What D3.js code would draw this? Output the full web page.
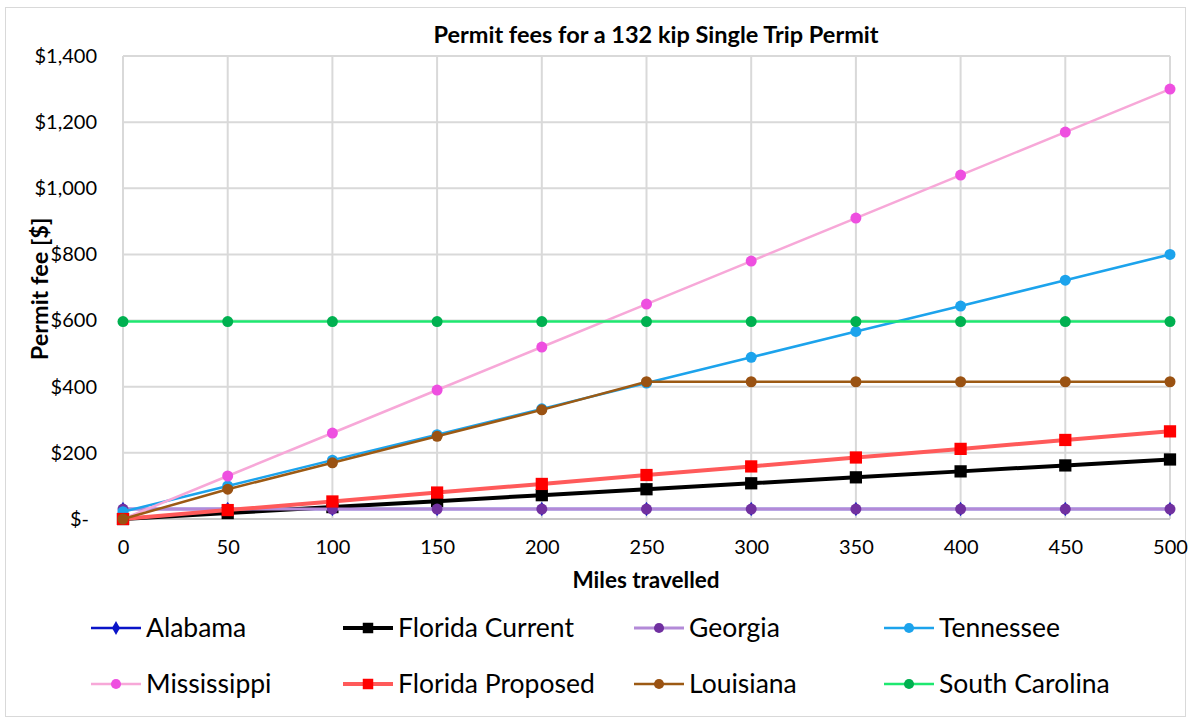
<!DOCTYPE html>
<html>
<head>
<meta charset="utf-8">
<script src="https://cdn.jsdelivr.net/npm/d3@7"></script>
<style>
  body { margin: 0; background: #fff; }
  text { font-family: Lato, "Open Sans", sans-serif; fill: #000; }
</style>
</head>
<body>
<div id="chart"></div>
<script>
// data
var miles = [0, 50, 100, 150, 200, 250, 300, 350, 400, 450, 500];
var alabama = [30, 30, 30, 30, 30, 30, 30, 30, 30, 30, 30];
var floridaCurrent = [0, 18, 36, 54, 72, 90, 108, 126, 144, 162, 180];
var georgia = [30, 30, 30, 30, 30, 30, 30, 30, 30, 30, 30];
var tennessee = [22, 100, 178, 255, 333, 411, 489, 567, 644, 722, 800];
var mississippi = [0, 130, 260, 390, 520, 650, 780, 910, 1040, 1170, 1300];
var floridaProposed = [0, 27, 53, 80, 106, 133, 159, 186, 212, 239, 265];
var louisiana = [0, 90, 170, 250, 330, 415, 415, 415, 415, 415, 415];
var southCarolina = [597, 597, 597, 597, 597, 597, 597, 597, 597, 597, 597];
var yTicks = [0, 200, 400, 600, 800, 1000, 1200, 1400];

var series = [
  {name: "Alabama", values: alabama, line: "#0a14c8", mark: "#0a14c8", shape: "diamond", lw: 2.5},
  {name: "Florida Current", values: floridaCurrent, line: "#000000", mark: "#000000", shape: "square", lw: 4},
  {name: "Georgia", values: georgia, line: "#b38ad8", mark: "#7030a0", shape: "circle", lw: 3},
  {name: "Tennessee", values: tennessee, line: "#1ca3ec", mark: "#1ca3ec", shape: "circle", lw: 2.5},
  {name: "Mississippi", values: mississippi, line: "#f7a8d8", mark: "#ee4fe0", shape: "circle", lw: 2.5},
  {name: "Florida Proposed", values: floridaProposed, line: "#ff5a5a", mark: "#ff0000", shape: "square", lw: 4},
  {name: "Louisiana", values: louisiana, line: "#9c5a14", mark: "#9a5212", shape: "circle", lw: 2.5},
  {name: "South Carolina", values: southCarolina, line: "#1ee870", mark: "#00b050", shape: "circle", lw: 2.5}
];

var W = 1191, H = 723;
var margin = {top: 56, right: 21, bottom: 204, left: 123},
    width = W - margin.left - margin.right,
    height = H - margin.top - margin.bottom;

var root = d3.select("#chart").append("svg")
    .attr("width", W).attr("height", H);

// outer chart border
root.append("rect")
    .attr("x", 5.5).attr("y", 7.5)
    .attr("width", 1180).attr("height", 709)
    .attr("fill", "#fff").attr("stroke", "#d9d9d9").attr("stroke-width", 1);

var svg = root.append("g")
    .attr("transform", "translate(" + margin.left + "," + margin.top + ")");

var x = d3.scaleLinear().domain([0, 500]).range([0, width]);
var y = d3.scaleLinear().domain([0, 1400]).range([height, 0]);

// gridlines
svg.append("g")
    .selectAll("line").data(miles).enter().append("line")
    .attr("x1", d => x(d)).attr("x2", d => x(d))
    .attr("y1", 0).attr("y2", height)
    .attr("stroke", "#d9d9d9").attr("stroke-width", 2);
svg.append("g")
    .selectAll("line").data(yTicks).enter().append("line")
    .attr("x1", 0).attr("x2", width)
    .attr("y1", d => y(d)).attr("y2", d => y(d))
    .attr("stroke", d => d === 0 ? "#c8c8c8" : "#d9d9d9").attr("stroke-width", 2);

// axes (labels only)
var xAxis = svg.append("g")
    .attr("transform", "translate(0," + height + ")")
    .call(d3.axisBottom(x).tickValues(miles).tickSize(0).tickPadding(21));
xAxis.select(".domain").remove();
xAxis.selectAll("text").style("font-size", "20px").style("font-family", "Lato, sans-serif");

var fmt = d3.format(",");
var yAxis = svg.append("g")
    .call(d3.axisLeft(y).tickValues(yTicks).tickSize(0).tickPadding(26)
      .tickFormat(d => d === 0 ? "$-" : "$" + fmt(d)));
yAxis.select(".domain").remove();
yAxis.selectAll("text").style("font-size", "20px").style("font-family", "Lato, sans-serif");
yAxis.selectAll(".tick").filter(d => d === 0).select("text").attr("x", -34);

// lines
var line = d3.line()
    .x((d, i) => x(miles[i]))
    .y(d => y(d));

var sym = {
  circle: d3.symbol().type(d3.symbolCircle).size(95),
  square: d3.symbol().type(d3.symbolSquare).size(150),
  diamond: d3.symbol().type(d3.symbolDiamond).size(60)
};

series.forEach(function (s) {
  svg.append("path")
      .datum(s.values)
      .attr("d", line)
      .attr("fill", "none")
      .attr("stroke", s.line)
      .attr("stroke-width", s.lw);
  svg.append("g").selectAll("path").data(s.values).enter().append("path")
      .attr("transform", (d, i) => "translate(" + x(miles[i]) + "," + y(d) + ")")
      .attr("d", sym[s.shape])
      .attr("fill", s.mark);
});

// titles
root.append("text")
    .attr("x", 656).attr("y", 43)
    .attr("text-anchor", "middle")
    .style("font-size", "23.5px").style("font-weight", "bold")
    .text("Permit fees for a 132 kip Single Trip Permit");

root.append("text")
    .attr("x", 646).attr("y", 588)
    .attr("text-anchor", "middle")
    .style("font-size", "22.5px").style("font-weight", "bold")
    .text("Miles travelled");

root.append("text")
    .attr("transform", "translate(48,289) rotate(-90)")
    .attr("text-anchor", "middle")
    .style("font-size", "23.5px").style("font-weight", "bold")
    .text("Permit fee [$]");

// legend
var legX = [91, 343, 634, 884], legY = [628, 684];
var legend = root.append("g");
series.forEach(function (s, i) {
  var lx = legX[i % 4], ly = legY[Math.floor(i / 4)];
  var g = legend.append("g").attr("transform", "translate(" + lx + "," + ly + ")");
  g.append("line").attr("x1", 0).attr("x2", 50).attr("y1", 0).attr("y2", 0)
      .attr("stroke", s.line).attr("stroke-width", s.lw);
  g.append("path").attr("transform", "translate(25,0)")
      .attr("d", s.shape === "square" ? d3.symbol().type(d3.symbolSquare).size(110)() : d3.symbol().type(s.shape === "diamond" ? d3.symbolDiamond : d3.symbolCircle).size(s.shape === "diamond" ? 55 : 80)())
      .attr("fill", s.mark);
  g.append("text").attr("x", 55).attr("y", 0).attr("dy", "0.35em")
      .style("font-size", "26.5px")
      .text(s.name);
});
</script>
</body>
</html>
